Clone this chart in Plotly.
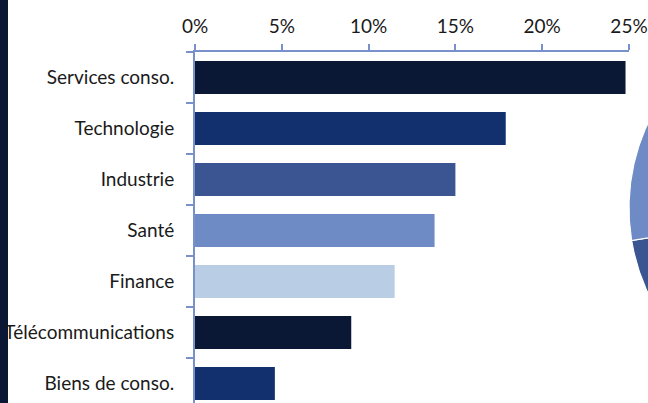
import numpy as np
import plotly.graph_objects as go

# ---- data ----
categories = ["Services conso.", "Technologie", "Industrie", "Santé", "Finance",
              "Télécommunications", "Biens de conso."]
values = [24.8, 17.9, 15.0, 13.8, 11.5, 9.0, 4.6]
bar_colors = ["#0A1836", "#12306E", "#3A5592", "#6F8BC6", "#B9CDE5", "#0A1836", "#12306E"]

x_ticks = [0, 5, 10, 15, 20, 25]
x_tick_labels = ["0%", "5%", "10%", "15%", "20%", "25%"]

# partially visible pie on the right edge (only two slices visible)
pie_values = [30.0, 25.0, 17.4, 12.0, 15.6]
pie_colors = ["#0A1836", "#12306E", "#3A5592", "#6F8BC6", "#B9CDE5"]

# ---- layout geometry ----
W, H = 648, 403
ML, MR, MT, MB = 195, 0, 52, 0
PW, PH = W - ML - MR, H - MT - MB
x_dom_end = 434.0 / PW
cat_px = 51.0
y_bottom = -0.5 + PH / cat_px

FONT = "Lato, sans-serif"
AX_COLOR = "#7891CB"

fig = go.Figure()
fig.add_trace(go.Bar(
    y=categories, x=values, orientation="h",
    marker=dict(color=bar_colors, line=dict(width=0)),
    hoverinfo="skip", showlegend=False,
))

# pie drawn as filled wedges on an auxiliary axis so it can overflow the figure edge
R = 200.0
pie_w_px = PW * (1 - x_dom_end)
cy_px = 156.0  # centre, px below top of plot area
total = sum(pie_values)
start = 90.0
for v, c in zip(pie_values, pie_colors):
    sweep = 360.0 * v / total
    th = np.radians(np.linspace(start, start - sweep, 80))
    xs = np.concatenate([[0.0], R * np.cos(th), [0.0]])
    ys = np.concatenate([[0.0], R * np.sin(th), [0.0]])
    fig.add_trace(go.Scatter(
        x=xs, y=ys, xaxis="x2", yaxis="y2", mode="lines", fill="toself",
        fillcolor=c, line=dict(color="white", width=1.2),
        hoverinfo="skip", showlegend=False,
    ))
    start -= sweep

fig.update_layout(
    width=W, height=H,
    margin=dict(l=ML, r=MR, t=MT, b=MB, pad=0, autoexpand=False),
    paper_bgcolor="white", plot_bgcolor="white",
    bargap=1 - 33.0 / cat_px,
    font=dict(family=FONT, size=19, color="#1A1A1A"),
    xaxis=dict(
        domain=[0, x_dom_end], range=[0, 25], side="top",
        tickvals=x_ticks, ticktext=x_tick_labels,
        showgrid=False, zeroline=False, automargin=False,
        showline=True, linecolor=AX_COLOR, linewidth=2,
        ticks="outside", ticklen=6, tickwidth=2, tickcolor=AX_COLOR,
        ticklabelstandoff=3, ticklabeloverflow="allow",
    ),
    yaxis=dict(
        range=[y_bottom, -0.5], type="category",
        showgrid=False, zeroline=False, automargin=False,
        showline=True, linecolor=AX_COLOR, linewidth=2,
        ticks="outside", ticklen=7, tickwidth=2, tickcolor=AX_COLOR,
        tickson="boundaries", ticklabelstandoff=15, ticklabeloverflow="allow",
    ),
    xaxis2=dict(domain=[x_dom_end, 1], range=[-R, -R + pie_w_px], anchor="y2",
                visible=False, fixedrange=True, automargin=False),
    yaxis2=dict(domain=[0, 1], range=[-(PH - cy_px), cy_px], anchor="x2",
                visible=False, fixedrange=True, automargin=False),
    shapes=[dict(type="rect", xref="paper", yref="paper",
                 x0=-ML / PW, x1=(8 - ML) / PW, y0=-0.01, y1=1 + MT / PH + 0.01,
                 fillcolor="#0A1836", line=dict(width=0), layer="below")],
)

fig.write_html("out.html",
               config={"displayModeBar": False, "staticPlot": True},
               post_script="document.body.style.margin='0';document.body.style.overflow='hidden';")
